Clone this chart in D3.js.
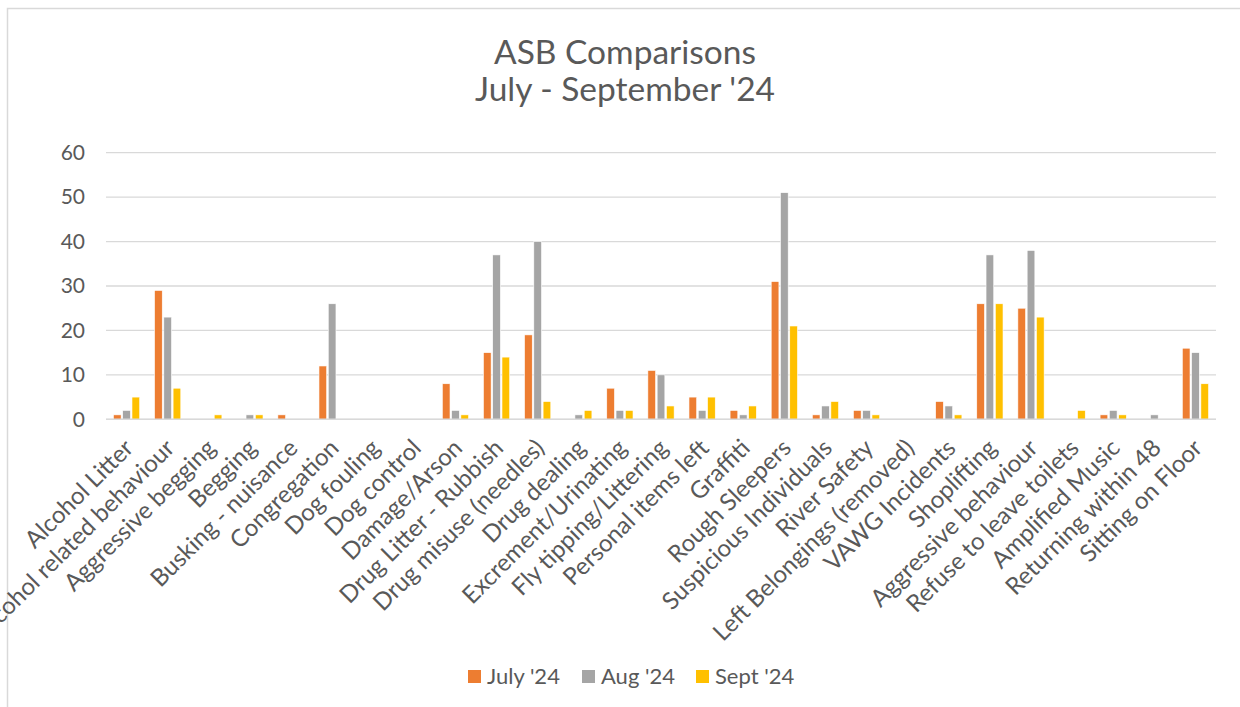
<!DOCTYPE html>
<html>
<head>
<meta charset="utf-8">
<script src="https://cdn.jsdelivr.net/npm/d3@7"></script>
<style>
  body { margin: 0; background: #fff; }
  svg { display: block; font-family: Lato, "Open Sans", sans-serif; }
</style>
</head>
<body>
<svg id="chart"></svg>
<script>
const width = 1240;
const height = 707;

// data
const categories = [
  "Alcohol Litter", "Alcohol related behaviour", "Aggressive begging", "Begging",
  "Busking - nuisance", "Congregation", "Dog fouling", "Dog control", "Damage/Arson",
  "Drug Litter - Rubbish", "Drug misuse (needles)", "Drug dealing", "Excrement/Urinating",
  "Fly tipping/Littering", "Personal items left", "Graffiti", "Rough Sleepers",
  "Suspicious Individuals", "River Safety", "Left Belongings (removed)", "VAWG Incidents",
  "Shoplifting", "Aggressive behaviour", "Refuse to leave toilets", "Amplified Music",
  "Returning within 48", "Sitting on Floor"
];
const seriesNames = ["July '24", "Aug '24", "Sept '24"];
const july = [1, 29, 0, 0, 1, 12, 0, 0, 8, 15, 19, 0, 7, 11, 5, 2, 31, 1, 2, 0, 4, 26, 25, 0, 1, 0, 16];
const aug  = [2, 23, 0, 1, 0, 26, 0, 0, 2, 37, 40, 1, 2, 10, 2, 1, 51, 3, 2, 0, 3, 37, 38, 0, 2, 1, 15];
const sept = [5, 7, 1, 1, 0, 0, 0, 0, 1, 14, 4, 2, 2, 3, 5, 3, 21, 4, 1, 0, 1, 26, 23, 2, 1, 0, 8];
const yTicks = [0, 10, 20, 30, 40, 50, 60];
const colors = ["#ED7D31", "#A5A5A5", "#FFC000"];

const seriesValues = [july, aug, sept];
const tableData = categories.map((c, i) => ({
  category: c,
  values: seriesNames.map((s, j) => ({ series: s, value: seriesValues[j][i] })),
}));

const margin = { top: 152.7, right: 24, bottom: 287.7, left: 106 };
const textColor = "#595959";

const svg = d3.select("#chart").attr("width", width).attr("height", height);

// chart frame (cropped at right / bottom in the reference)
svg.append("rect")
  .attr("x", 7.5).attr("y", 8.5)
  .attr("width", width + 20).attr("height", height + 20)
  .attr("fill", "#fff")
  .attr("stroke", "#D9D9D9").attr("stroke-width", 1.5);

// title
const title = svg.append("text")
  .attr("text-anchor", "middle")
  .attr("fill", textColor)
  .attr("font-size", "33.5px");
title.append("tspan").attr("x", 625).attr("y", 64).text("ASB Comparisons");
title.append("tspan").attr("x", 625).attr("y", 101).text("July - September '24");

// scales
const x0 = d3.scaleBand()
  .domain(categories)
  .range([margin.left, width - margin.right]);

const x1 = d3.scaleBand()
  .domain(seriesNames)
  .range([0, x0.bandwidth()])
  .paddingInner(0.17)
  .paddingOuter(0.8);

const y = d3.scaleLinear()
  .domain([0, 60])
  .range([height - margin.bottom, margin.top]);

const color = d3.scaleOrdinal().domain(seriesNames).range(colors);

// gridlines
svg.append("g")
  .selectAll("line")
  .data(yTicks)
  .join("line")
  .attr("x1", margin.left)
  .attr("x2", width - margin.right)
  .attr("y1", d => y(d))
  .attr("y2", d => y(d))
  .attr("stroke", "#D9D9D9")
  .attr("stroke-width", 1.3);

// y axis
const yAxis = svg.append("g")
  .attr("transform", `translate(${margin.left}, 0)`)
  .call(d3.axisLeft(y).tickValues(yTicks).tickSize(0).tickPadding(21));
yAxis.select(".domain").remove();
yAxis.selectAll("text")
  .attr("fill", textColor)
  .attr("font-size", "21px")
  .attr("font-family", "Lato, sans-serif");

// bars
svg.append("g")
  .selectAll("g")
  .data(tableData)
  .join("g")
  .attr("transform", d => `translate(${x0(d.category)}, 0)`)
  .selectAll("rect")
  .data(d => d.values.filter(v => v.value > 0))
  .join("rect")
  .attr("x", d => x1(d.series))
  .attr("y", d => y(d.value))
  .attr("width", x1.bandwidth())
  .attr("height", d => y(0) - y(d.value))
  .attr("fill", d => color(d.series))
  .attr("stroke", "#fff")
  .attr("stroke-width", 0.6);

// x axis line
svg.append("line")
  .attr("x1", margin.left).attr("x2", width - margin.right)
  .attr("y1", y(0)).attr("y2", y(0))
  .attr("stroke", "#D9D9D9").attr("stroke-width", 1.5);

// x labels, rotated
const xAxis = svg.append("g")
  .attr("transform", `translate(0, ${y(0)})`)
  .call(d3.axisBottom(x0).tickSize(0).tickPadding(0));
xAxis.select(".domain").remove();
xAxis.selectAll("text")
  .attr("fill", textColor)
  .attr("font-size", "24px")
  .attr("font-family", "Lato, sans-serif")
  .attr("text-anchor", "end")
  .attr("dy", "0.72em")
  .attr("y", 0)
  .attr("x", 0)
  .attr("transform", "translate(-4, 18) rotate(-45)");

// legend
const legendX = [468, 582, 696];
const legend = svg.append("g")
  .selectAll("g")
  .data(seriesNames)
  .join("g")
  .attr("transform", (d, i) => `translate(${legendX[i]}, 670)`);
legend.append("rect")
  .attr("width", 13).attr("height", 13)
  .attr("fill", d => color(d));
legend.append("text")
  .attr("x", 19).attr("y", 13.5)
  .attr("fill", textColor)
  .attr("font-size", "22px")
  .text(d => d);
</script>
</body>
</html>
